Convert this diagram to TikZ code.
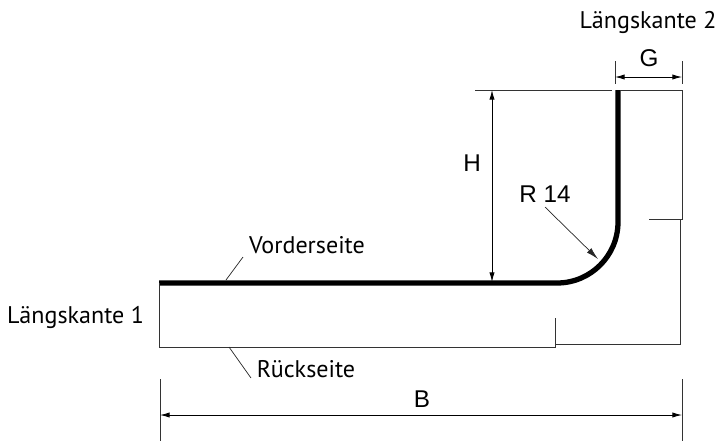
\documentclass[tikz,border=0pt]{standalone}
\usepackage{fontspec}
\setmainfont{PT Sans}
\newfontfamily\dimfont{Liberation Sans}
\usetikzlibrary{arrows.meta}
\tikzset{
    thinline/.style={line width=0.5pt, black!80},
    sheet/.style={line width=3pt, line cap=butt},
    dimline/.style={line width=0.5pt, {Latex[length=5.5pt,width=3pt]}-{Latex[length=5.5pt,width=3pt]}},
    leader/.style={line width=0.4pt, black!85},
    caption/.style={inner sep=0pt, font=\fontsize{13.7}{13.7}\selectfont},
    dimtext/.style={inner sep=0pt, font=\dimfont\fontsize{13.8}{13.8}\selectfont}
}
\begin{document}
\begin{tikzpicture}[x=0.02cm, y=-0.02cm]
    \useasboundingbox (0,0) rectangle (717,441);
    % labels
    \node[caption] at (75.5,317) (kante1) {Längskante 1};
    \node[caption] at (648,22) (kante2) {Längskante 2};
    \node[caption] at (307,245) (vorder) {Vorderseite};
    \node[caption] at (306,369) (rueck) {Rückseite};
    \node[dimtext] at (649,58) (G) {G};
    \node[dimtext] at (472,163) (H) {H};
    \node[dimtext] at (545,194) (R) {R 14};
    \node[dimtext] at (422,399) (B) {B};
    % sheet
    \coordinate (sheetL) at (159,283);
    \coordinate (sheetT) at (618,90);
    \draw[sheet] (sheetL) -- (557,283) arc[start angle=90, end angle=0, radius=61] -- (sheetT);
    % outline of the drawing frame
    \draw[thinline] (sheetL) -- (159,347) -- (555,347) -- (555,318);
    \draw[thinline] (555,344) -- (680,344) -- (680,219);
    \draw[thinline] (649,219) -- (682,219) -- (682,90) -- (620,90);
    % H
    \draw[thinline] (475,90) -- (612,90);
    \draw[dimline] (492,90) -- (492,282);
    % G
    \draw[thinline] (615,61) -- (615,84);
    \draw[thinline] (682,61) -- (682,84);
    \draw[dimline] (615,77) -- (682,77);
    % B
    \draw[thinline] (160,379) -- (160,441);
    \draw[thinline] (682,379) -- (682,441);
    \draw[dimline] (160,415) -- (682,415);
    % leaders
    \draw[leader, -{Latex[length=7pt,width=3.5pt]}] (545,207) -- (598,259);
    \draw[leader] (243,257) -- (226,280);
    \draw[leader] (229,347) -- (251,378);
\end{tikzpicture}
\end{document}
